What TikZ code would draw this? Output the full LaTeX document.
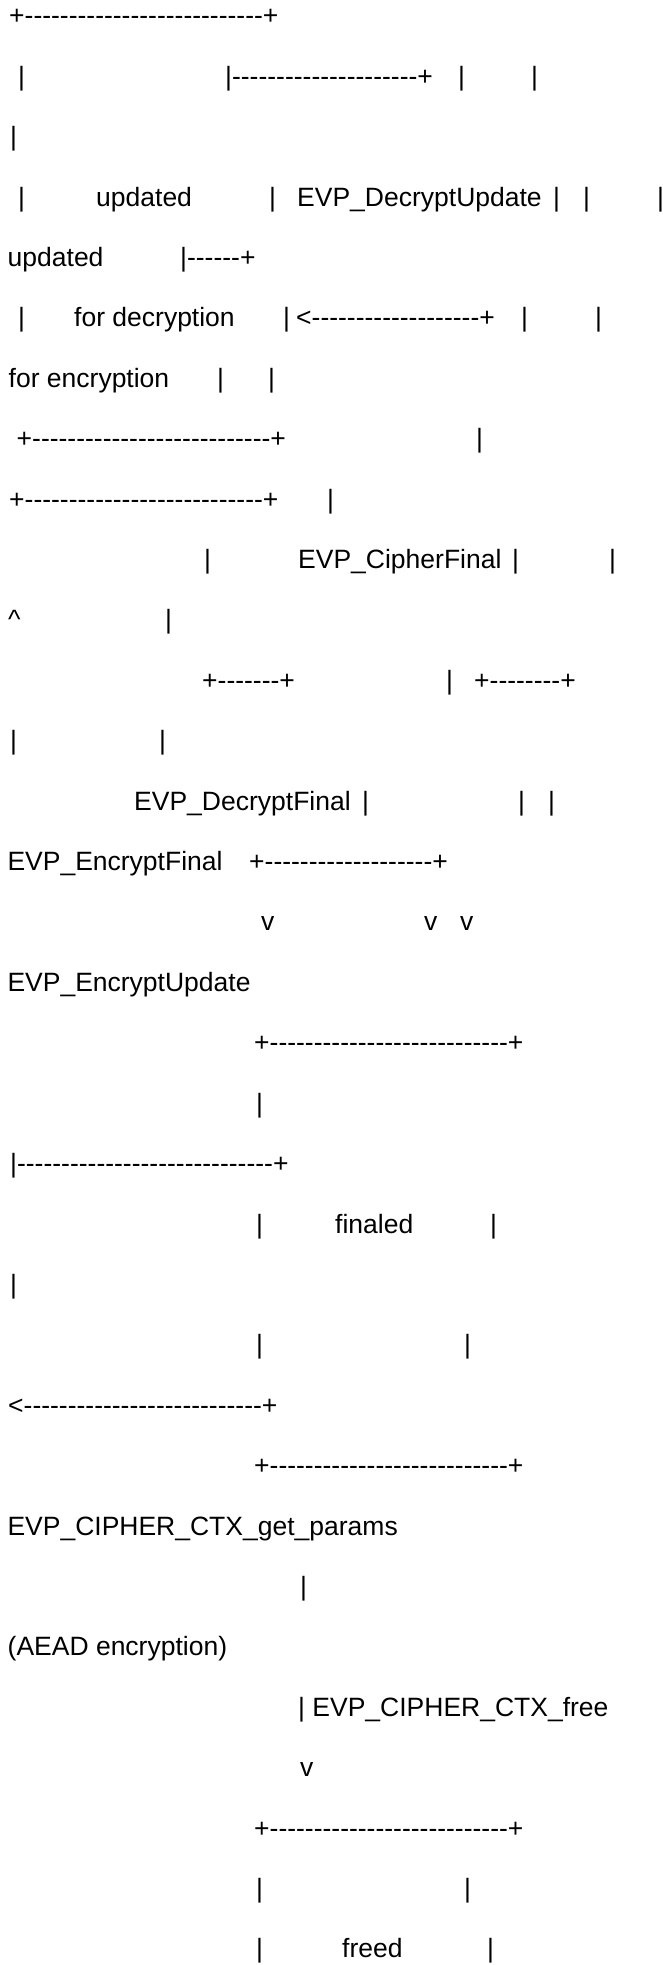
\documentclass[tikz,border=0pt]{standalone}
\usepackage{fontspec}
\setmainfont{Liberation Sans}[Ligatures=TeXOff]
\newcommand\asciifont{\fontsize{26.5}{30}\selectfont}
\newcommand\dashrun[1]{\foreach\k in {1,...,#1}{-}}

\begin{document}
\begin{tikzpicture}[x=1pt, y=1pt,
  txt/.style={anchor=base west, inner sep=0pt, font=\asciifont}]

  \useasboundingbox (0,0) rectangle (662,-1965);

  % updated states
  \node[txt] (l1)  at (9,-24.8)    {+\dashrun{27}+};
  \node[txt] (l2a) at (18,-85.2)   {|};
  \node[txt] (l2b) at (225,-85.2)  {|\dashrun{21}+};
  \node[txt] (l2c) at (458,-85.2)  {|};
  \node[txt] (l2d) at (531,-85.2)  {|};
  \node[txt] (l3)  at (10,-145.6)  {|};
  \node[txt] (l4a) at (18,-206.0)  {|};
  \node[txt] (l4b) at (96,-206.0)  {updated};
  \node[txt] (l4c) at (269,-206.0) {|};
  \node[txt] (l4d) at (297,-206.0) {EVP\_DecryptUpdate};
  \node[txt] (l4e) at (553,-206.0) {|};
  \node[txt] (l4f) at (583,-206.0) {|};
  \node[txt] (l4g) at (657,-206.0) {|};
  \node[txt] (l5a) at (7.5,-266.4) {updated};
  \node[txt] (l5b) at (180,-266.4) {|\dashrun{6}+};
  \node[txt] (l6a) at (18,-326.9)  {|};
  \node[txt] (l6b) at (74,-326.9)  {for decryption};
  \node[txt] (l6c) at (283,-326.9) {|};
  \node[txt] (l6d) at (296,-326.9) {<\dashrun{19}+};
  \node[txt] (l6e) at (521,-326.9) {|};
  \node[txt] (l6f) at (595,-326.9) {|};
  \node[txt] (l7a) at (8.5,-387.3) {for encryption};
  \node[txt] (l7b) at (217,-387.3) {|};
  \node[txt] (l7c) at (268,-387.3) {|};
  \node[txt] (l8a) at (16.5,-447.7) {+\dashrun{27}+};
  \node[txt] (l8b) at (476,-447.7) {|};
  \node[txt] (l9a) at (9,-508.1)   {+\dashrun{27}+};
  \node[txt] (l9b) at (327,-508.1) {|};

  % final calls
  \node[txt] (l10a) at (204,-568.5) {|};
  \node[txt] (l10b) at (298,-568.5) {EVP\_CipherFinal};
  \node[txt] (l10c) at (512,-568.5) {|};
  \node[txt] (l10d) at (609,-568.5) {|};
  \node[txt] (l11a) at (8,-628.9)   {\textasciicircum};
  \node[txt] (l11b) at (165,-628.9) {|};
  \node[txt] (l12a) at (202,-689.3) {+\dashrun{7}+};
  \node[txt] (l12b) at (446,-689.3) {|};
  \node[txt] (l12c) at (474,-689.3) {+\dashrun{8}+};
  \node[txt] (l13a) at (10,-749.7)  {|};
  \node[txt] (l13b) at (159,-749.7) {|};
  \node[txt] (l14a) at (134,-810.1) {EVP\_DecryptFinal};
  \node[txt] (l14b) at (362,-810.1) {|};
  \node[txt] (l14c) at (518,-810.1) {|};
  \node[txt] (l14d) at (548,-810.1) {|};
  \node[txt] (l15a) at (7.3,-870.5) {EVP\_EncryptFinal};
  \node[txt] (l15b) at (249,-870.5) {+\dashrun{19}+};
  \node[txt] (l16a) at (261,-930.9) {v};
  \node[txt] (l16b) at (424,-930.9) {v};
  \node[txt] (l16c) at (460,-930.9) {v};
  \node[txt] (l17)  at (7.3,-991.4) {EVP\_EncryptUpdate};

  % finaled
  \node[txt] (l18)  at (254,-1051.8) {+\dashrun{27}+};
  \node[txt] (l19)  at (256,-1112.2) {|};
  \node[txt] (l20)  at (10,-1172.6)  {|\dashrun{29}+};
  \node[txt] (l21a) at (256,-1233.0) {|};
  \node[txt] (l21b) at (335,-1233.0) {finaled};
  \node[txt] (l21c) at (490,-1233.0) {|};
  \node[txt] (l22)  at (10,-1293.4)  {|};
  \node[txt] (l23a) at (256,-1353.8) {|};
  \node[txt] (l23b) at (464,-1353.8) {|};
  \node[txt] (l24)  at (8,-1414.2)   {<\dashrun{27}+};
  \node[txt] (l25)  at (254,-1474.6) {+\dashrun{27}+};
  \node[txt] (l26)  at (7.3,-1535.0) {EVP\_CIPHER\_CTX\_get\_params};
  \node[txt] (l27)  at (300,-1595.4) {|};
  \node[txt] (l28)  at (7.5,-1655.9) {(AEAD encryption)};

  % freed
  \node[txt] (l29)  at (298,-1716.3) {| EVP\_CIPHER\_CTX\_free};
  \node[txt] (l30)  at (300,-1776.7) {v};
  \node[txt] (l31)  at (254,-1837.1) {+\dashrun{27}+};
  \node[txt] (l32a) at (256,-1897.5) {|};
  \node[txt] (l32b) at (464,-1897.5) {|};
  \node[txt] (l33a) at (256,-1957.9) {|};
  \node[txt] (l33b) at (342,-1957.9) {freed};
  \node[txt] (l33c) at (487,-1957.9) {|};
\end{tikzpicture}
\end{document}
